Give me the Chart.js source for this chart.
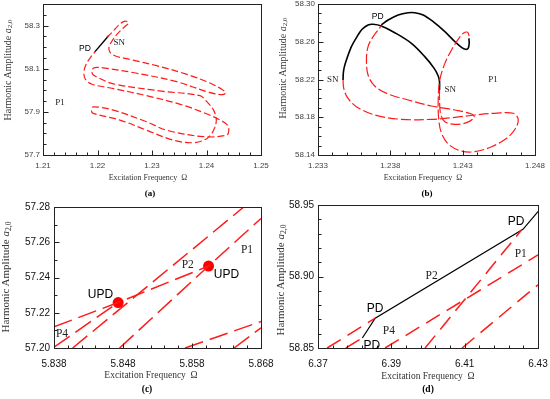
<!DOCTYPE html>
<html>
<head>
<meta charset="utf-8">
<script src="https://cdn.jsdelivr.net/npm/chart.js@4.4.0/dist/chart.umd.min.js"></script>
<style>
  body { margin: 0; background: #fff; width: 550px; height: 399px; position: relative; overflow: hidden; }
  canvas { position: absolute; }
  .t { position: absolute; font-family: "Liberation Serif", "Times New Roman", serif; color: #333; white-space: nowrap; transform: translate(-50%, -50%); }
  .yt { transform: translate(-50%, -50%) rotate(-90deg); }
  .cap { font-weight: bold; color: #000; }
  sub { font-size: 70%; vertical-align: -0.25em; }
</style>
</head>
<body>
<canvas id="ca" width="275" height="175" style="left:0;top:0"></canvas>
<canvas id="cb" width="275" height="175" style="left:275px;top:0"></canvas>
<canvas id="cc" width="275" height="178" style="left:0;top:200px"></canvas>
<canvas id="cd" width="275" height="178" style="left:275px;top:200px"></canvas>

<div class="t yt" style="left:8px;top:70px;font-size:10px">Harmonic Amplitude <i>a</i><sub>2,0</sub></div>
<div class="t" style="left:148px;top:177px;font-size:8px">Excitation Frequency&nbsp;&nbsp;Ω</div>
<div class="t cap" style="left:150px;top:193px;font-size:9px">(a)</div>

<div class="t yt" style="left:283px;top:68px;font-size:10px">Harmonic Amplitude <i>a</i><sub>2,0</sub></div>
<div class="t" style="left:423px;top:177px;font-size:8px">Excitation Frequency&nbsp;&nbsp;Ω</div>
<div class="t cap" style="left:427px;top:193px;font-size:9px">(b)</div>

<div class="t yt" style="left:6px;top:277px;font-size:11px">Harmonic Amplitude <i>a</i><sub>2,0</sub></div>
<div class="t" style="left:151px;top:375px;font-size:9.5px">Excitation Frequency&nbsp;&nbsp;Ω</div>
<div class="t cap" style="left:147px;top:389px;font-size:9.5px">(c)</div>

<div class="t yt" style="left:281px;top:280px;font-size:11px">Harmonic Amplitude <i>a</i><sub>2,0</sub></div>
<div class="t" style="left:428px;top:376px;font-size:9.5px">Excitation Frequency&nbsp;&nbsp;Ω</div>
<div class="t cap" style="left:428px;top:389px;font-size:9.5px">(d)</div>

<script>
// ---- panel (a) ----
const aXTicks = [1.21, 1.22, 1.23, 1.24, 1.25];
const aYTicks = [57.7, 57.9, 58.1, 58.3];
const aRedX = [1.2217,1.2228,1.2238,1.2246,1.2253,1.2257,1.2252,1.2243,1.2234,1.2226,1.2221,1.2223,1.2233,1.2260,1.2310,1.2364,1.2405,1.2428,1.2435,1.2428,1.2405,1.2345,1.2270,1.2210,1.2195,1.2190,1.2191,1.2200,1.2229,1.2321,1.2388,1.2401,1.2413,1.2418,1.2413,1.2401,1.2376,1.2339,1.2290,1.2241,1.2192,1.2189,1.2192,1.2229,1.2290,1.2327,1.2394,1.2437,1.2441,1.2438,1.2425,1.2401,1.2352,1.2290,1.2229,1.2190,1.2178,1.2175,1.2180,1.2188,1.2196];
const aRedY = [58.245,58.272,58.300,58.316,58.320,58.312,58.299,58.279,58.254,58.226,58.199,58.176,58.159,58.143,58.113,58.074,58.035,58.005,57.988,57.980,57.990,58.040,58.080,58.104,58.105,58.095,58.075,58.060,58.030,57.995,57.975,57.946,57.908,57.862,57.815,57.777,57.757,57.769,57.815,57.862,57.893,57.905,57.923,57.908,57.854,57.815,57.785,57.792,57.815,57.840,57.862,57.890,57.935,57.975,58.008,58.028,58.050,58.085,58.125,58.155,58.180];
const aBlackX = [1.2195, 1.2220];
const aBlackY = [58.178, 58.252];

// ---- panel (b) ----
const bXTicks = [1.233, 1.238, 1.243, 1.248];
const bYTicks = [58.14, 58.18, 58.22, 58.26, 58.30];
const bBlack1X = [1.23473,1.23476,1.23489,1.23531,1.23577,1.23605,1.23646,1.23681,1.23738,1.23831,1.23946,1.24038,1.24103,1.24131,1.2414,1.2414];
const bBlack1Y = [58.2195,58.2283,58.2371,58.2548,58.2672,58.2732,58.2778,58.2785,58.2767,58.2696,58.2583,58.2442,58.2318,58.2237,58.2177,58.2089];
const bBlack2X = [1.23738,1.23785,1.23854,1.23923,1.23969,1.24027,1.24096,1.24177,1.24246,1.24292,1.2432,1.24338,1.24345,1.24343];
const bBlack2Y = [58.2778,58.2831,58.2884,58.2908,58.2908,58.2884,58.2813,58.2707,58.2601,58.2541,58.252,58.253,58.2583,58.2636];
const bRed1X = [1.2414,1.2414,1.24147,1.24177,1.24246,1.24327,1.2438,1.24361,1.24246,1.24084,1.23923,1.23785,1.23692,1.23646,1.23635,1.23646,1.23681,1.23738];
const bRed1Y = [58.2089,58.1983,58.1842,58.1753,58.1725,58.1743,58.1799,58.1834,58.1877,58.1919,58.1983,58.2046,58.2131,58.2248,58.2407,58.2548,58.2654,58.2767];
const bRed2X = [1.23473,1.23478,1.23503,1.23565,1.23692,1.23877,1.24084,1.24246,1.24384,1.24523,1.2465,1.24684,1.24666,1.24604,1.245,1.24384,1.24281,1.242,1.24154,1.24135,1.24131,1.24142,1.24177,1.24223,1.24269,1.24304,1.24334,1.24345,1.24343];
const bRed2Y = [58.2195,58.2106,58.2011,58.1912,58.1824,58.1778,58.1778,58.1799,58.1824,58.1842,58.1842,58.1778,58.1683,58.1577,58.1488,58.1435,58.1446,58.1517,58.163,58.1771,58.1983,58.2195,58.2371,58.2513,58.2626,58.2689,58.27,58.2654,58.2636];

// ---- panel (c) ----
const cXTicks = [5.838, 5.848, 5.858, 5.868];
const cYTicks = [57.20, 57.22, 57.24, 57.26, 57.28];
const cP1X = [5.8475, 5.8604, 5.868],  cP1Y = [57.20, 57.2465, 57.2735];
const cL1X = [5.8407, 5.8655],         cL1Y = [57.20, 57.28];
const cP2X = [5.838, 5.8473, 5.8604],  cP2Y = [57.212, 57.2258, 57.2465];
const cP4X = [5.838, 5.8473],          cP4Y = [57.2005, 57.2258];
const cLow1X = [5.857, 5.868],         cLow1Y = [57.20, 57.215];
const cLow2X = [5.8641, 5.868],        cLow2Y = [57.20, 57.2115];
const cUpdX = [5.8473, 5.8604],        cUpdY = [57.2258, 57.2465];

// ---- panel (d) ----
const dXTicks = [6.37, 6.39, 6.41, 6.43];
const dYTicks = [58.85, 58.90, 58.95];
const dBlackX = [6.3821, 6.3856, 6.4259, 6.4300];
const dBlackY = [58.857, 58.8709, 58.933, 58.9454];
const dRedAX = [6.3725, 6.3856], dRedAY = [58.85, 58.8709];
const dRedBX = [6.3776, 6.3821], dRedBY = [58.85, 58.857];
const dRedCX = [6.3883, 6.43],   dRedCY = [58.85, 58.9151];
const dRedDX = [6.3992, 6.4255], dRedDY = [58.85, 58.9325];
const dRedEX = [6.4093, 6.43],   dRedEY = [58.85, 58.8942];

const RED = '#ff1a1a';

function pts(xs, ys) {
  return xs.map((x, i) => ({ x: x, y: ys[i] }));
}

function line(xs, ys, color, width, dash, tension) {
  return {
    data: pts(xs, ys), showLine: true, borderColor: color, borderWidth: width,
    borderDash: dash, pointRadius: 0, tension: tension || 0, fill: false
  };
}

// frame, inward ticks and the text notes
function decoPlugin(p) {
  return {
    id: 'deco',
    afterDraw(chart) {
      const ctx = chart.ctx, a = chart.chartArea;
      const xs = chart.scales.x, ys = chart.scales.y;
      const L = Math.round(a.left) + 0.5, R = Math.round(a.right) + 0.5;
      const T = Math.round(a.top) + 0.5, B = Math.round(a.bottom) + 0.5;
      ctx.save();
      ctx.strokeStyle = '#222';
      ctx.lineWidth = 1;
      ctx.strokeRect(L, T, R - L, B - T);
      ctx.beginPath();
      const xStep = (p.xTicks[1] - p.xTicks[0]) / p.xSub;
      for (let v = p.xMin, i = 0; v <= p.xMax + 1e-9; v += xStep, i++) {
        const px = Math.round(xs.getPixelForValue(v)) + 0.5;
        const len = i % p.xSub === 0 ? 5 : 3;
        ctx.moveTo(px, B); ctx.lineTo(px, B - len);
      }
      const yStep = (p.yTicks[1] - p.yTicks[0]) / p.ySub;
      for (let v = p.yTicks[0], i = 0; v <= p.yMax + 1e-9; v += yStep, i++) {
        const py = Math.round(ys.getPixelForValue(v)) + 0.5;
        const len = i % p.ySub === 0 ? 5 : 3;
        ctx.moveTo(L, py); ctx.lineTo(L + len, py);
      }
      ctx.stroke();
      ctx.textAlign = 'center';
      ctx.textBaseline = 'middle';
      p.notes.forEach(n => {
        ctx.font = n.size + 'px ' + (n.serif ? '"Liberation Serif"' : '"Liberation Sans"');
        ctx.fillStyle = n.serif ? '#222' : '#000';
        ctx.fillText(n.text, xs.getPixelForValue(n.x), ys.getPixelForValue(n.y));
      });
      ctx.restore();
    }
  };
}

function makePanel(id, p) {
  new Chart(document.getElementById(id), {
    type: 'scatter',
    data: { datasets: p.datasets },
    options: {
      responsive: false,
      animation: false,
      devicePixelRatio: 1,
      layout: { padding: p.pad },
      plugins: { legend: { display: false }, tooltip: { enabled: false } },
      scales: {
        x: {
          type: 'linear', min: p.xMin, max: p.xMax,
          grid: { display: false, drawTicks: false }, border: { display: false },
          ticks: {
            font: { family: 'Liberation Sans', size: p.tickSize }, color: p.tickColor,
            padding: p.xPad, maxRotation: 0, autoSkip: false,
            callback: v => v.toFixed(p.xDec)
          },
          afterBuildTicks: s => { s.ticks = p.xTicks.map(v => ({ value: v })); },
          afterFit: s => { s.height = p.xH; s.paddingLeft = 0; s.paddingRight = 0; }
        },
        y: {
          type: 'linear', min: p.yMin, max: p.yMax,
          grid: { display: false, drawTicks: false }, border: { display: false },
          ticks: {
            font: { family: 'Liberation Sans', size: p.tickSize }, color: p.tickColor,
            padding: p.yPad, autoSkip: false,
            callback: v => v.toFixed(p.yDec)
          },
          afterBuildTicks: s => { s.ticks = p.yTicks.map(v => ({ value: v })); },
          afterFit: s => { s.width = p.yW; s.paddingTop = 0; s.paddingBottom = 0; }
        }
      }
    },
    plugins: [decoPlugin(p)]
  });
}

makePanel('ca', {
  xMin: 1.21, xMax: 1.25, yMin: 57.7, yMax: 58.4,
  xTicks: aXTicks, yTicks: aYTicks, xDec: 2, yDec: 1, xSub: 5, ySub: 4,
  pad: { left: 0, right: 14, top: 4, bottom: 0 }, yW: 43, xH: 20,
  tickSize: 8, tickColor: '#444', xPad: 6, yPad: 3,
  datasets: [
    line(aRedX, aRedY, RED, 1.2, [7, 3], 0.35),
    line(aBlackX, aBlackY, '#000', 1.4, [], 0)
  ],
  notes: [
    { text: 'PD', x: 1.2177, y: 58.194, size: 8.5 },
    { text: 'SN', x: 1.2240, y: 58.222, size: 9, serif: true },
    { text: 'P1', x: 1.2131, y: 57.943, size: 9, serif: true }
  ]
});

makePanel('cb', {
  xMin: 1.233, xMax: 1.248, yMin: 58.14, yMax: 58.30,
  xTicks: bXTicks, yTicks: bYTicks, xDec: 3, yDec: 2, xSub: 5, ySub: 4,
  pad: { left: 0, right: 15, top: 4, bottom: 0 }, yW: 43, xH: 20,
  tickSize: 8, tickColor: '#444', xPad: 6, yPad: 3,
  datasets: [
    line(bRed1X, bRed1Y, RED, 1.2, [10, 3], 0.35),
    line(bRed2X, bRed2Y, RED, 1.2, [10, 3], 0.35),
    line(bBlack1X, bBlack1Y, '#000', 1.6, [], 0.35),
    line(bBlack2X, bBlack2Y, '#000', 1.6, [], 0.35)
  ],
  notes: [
    { text: 'PD', x: 1.23713, y: 58.287, size: 8.5 },
    { text: 'SN', x: 1.23402, y: 58.2195, size: 9, serif: true },
    { text: 'SN', x: 1.24214, y: 58.2089, size: 9, serif: true },
    { text: 'P1', x: 1.24509, y: 58.2202, size: 9, serif: true }
  ]
});

const updDots = {
  data: pts(cUpdX, cUpdY), showLine: false, pointRadius: 5.5,
  pointBackgroundColor: '#ff0000', pointBorderWidth: 0
};

makePanel('cc', {
  xMin: 5.838, xMax: 5.868, yMin: 57.20, yMax: 57.28,
  xTicks: cXTicks, yTicks: cYTicks, xDec: 3, yDec: 2, xSub: 5, ySub: 2,
  pad: { left: 0, right: 14, top: 7, bottom: 0 }, yW: 54, xH: 30,
  tickSize: 10, tickColor: '#111', xPad: 10, yPad: 4,
  datasets: [
    line(cP1X, cP1Y, RED, 1.5, [19, 7], 0),
    line(cL1X, cL1Y, RED, 1.5, [19, 7], 0),
    line(cP2X, cP2Y, RED, 1.5, [19, 7], 0),
    line(cP4X, cP4Y, RED, 1.5, [19, 7], 0),
    line(cLow1X, cLow1Y, RED, 1.5, [19, 7], 0),
    line(cLow2X, cLow2Y, RED, 1.5, [19, 7], 0),
    updDots
  ],
  notes: [
    { text: 'UPD', x: 5.84474, y: 57.2303, size: 12 },
    { text: 'UPD', x: 5.8630, y: 57.2416, size: 12 },
    { text: 'P2', x: 5.85739, y: 57.2469, size: 11.5, serif: true },
    { text: 'P1', x: 5.86597, y: 57.2554, size: 11.5, serif: true },
    { text: 'P4', x: 5.83916, y: 57.2079, size: 11.5, serif: true }
  ]
});

makePanel('cd', {
  xMin: 6.37, xMax: 6.43, yMin: 58.85, yMax: 58.95,
  xTicks: dXTicks, yTicks: dYTicks, xDec: 2, yDec: 2, xSub: 5, ySub: 5,
  pad: { left: 0, right: 12, top: 5, bottom: 0 }, yW: 43, xH: 30,
  tickSize: 10, tickColor: '#111', xPad: 10, yPad: 4,
  datasets: [
    line(dRedAX, dRedAY, RED, 1.5, [16, 8], 0),
    line(dRedBX, dRedBY, RED, 1.5, [16, 8], 0),
    line(dRedCX, dRedCY, RED, 1.5, [16, 8], 0),
    line(dRedDX, dRedDY, RED, 1.5, [16, 8], 0),
    line(dRedEX, dRedEY, RED, 1.5, [16, 8], 0),
    line(dBlackX, dBlackY, '#000', 1.2, [], 0)
  ],
  notes: [
    { text: 'PD', x: 6.42401, y: 58.9386, size: 12 },
    { text: 'P1', x: 6.42529, y: 58.9158, size: 11.5, serif: true },
    { text: 'P2', x: 6.401, y: 58.9002, size: 11.5, serif: true },
    { text: 'PD', x: 6.38558, y: 58.8772, size: 12 },
    { text: 'P4', x: 6.38931, y: 58.8621, size: 11.5, serif: true },
    { text: 'PD', x: 6.38469, y: 58.8518, size: 12 }
  ]
});
</script>
</body>
</html>
